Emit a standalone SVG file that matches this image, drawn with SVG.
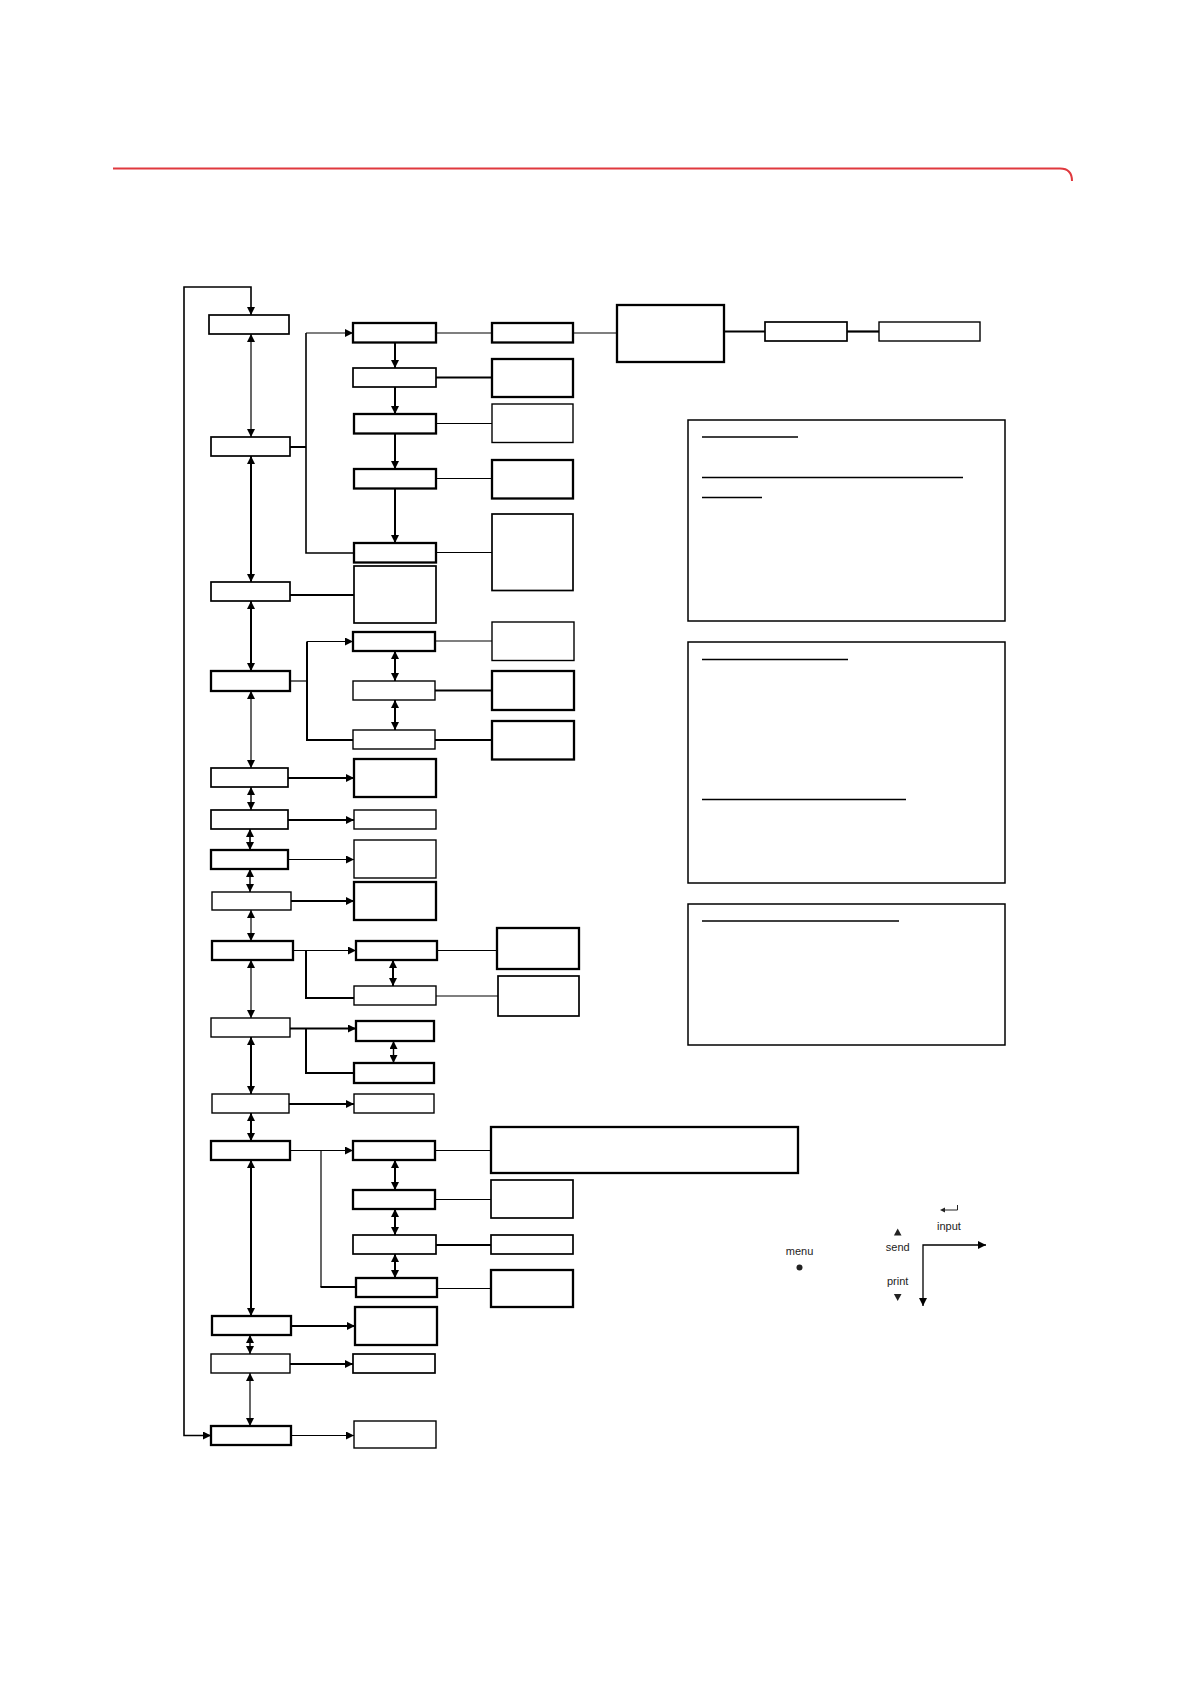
<svg xmlns="http://www.w3.org/2000/svg" width="1190" height="1684" viewBox="0 0 1190 1684">
<defs>
<style>
.b{fill:#fff;stroke:#000}
.w1{stroke-width:1.4}
.w15{stroke-width:1.7}
.w2{stroke-width:2.3}
.c{fill:none;stroke:#000}
.u{stroke:#000;stroke-width:1.6}
.lbl{font-family:"Liberation Sans",Arial,sans-serif;font-size:11px;fill:#222;text-anchor:middle}
</style>
<marker id="ah" viewBox="0 0 10 10" refX="10" refY="5" markerWidth="8" markerHeight="8" markerUnits="userSpaceOnUse" orient="auto-start-reverse">
<path d="M0,0 L10,5 L0,10 z" fill="#000"/>
</marker>
</defs>
<rect width="1190" height="1684" fill="#fff"/>
<path d="M113,168.5 H1060 Q1072,168.5 1072,181" fill="none" stroke="#e0393e" stroke-width="2"/>

<g id="connectors">
<path class="c" stroke-width="1.6" d="M211,1435.5 H184 V287 H251 V315" marker-start="url(#ah)" marker-end="url(#ah)"/>
<g marker-start="url(#ah)" marker-end="url(#ah)">
<path class="c" stroke-width="1.2" d="M251,334 V437"/>
<path class="c" stroke-width="2" d="M251,456 V582"/>
<path class="c" stroke-width="2" d="M251,601 V671"/>
<path class="c" stroke-width="1.2" d="M251,691 V768"/>
<path class="c" stroke-width="1.4" d="M251,787 V810"/>
<path class="c" stroke-width="1.6" d="M250,829 V850"/>
<path class="c" stroke-width="1.4" d="M250,869 V892"/>
<path class="c" stroke-width="1.2" d="M251,910 V941"/>
<path class="c" stroke-width="1.2" d="M251,960 V1018"/>
<path class="c" stroke-width="2" d="M251,1037 V1094"/>
<path class="c" stroke-width="2" d="M251,1113 V1141"/>
<path class="c" stroke-width="2" d="M251,1160 V1316"/>
<path class="c" stroke-width="1.4" d="M250,1335 V1354"/>
<path class="c" stroke-width="1.2" d="M250,1373 V1426"/>
<path class="c" stroke-width="2" d="M395,651 V681"/>
<path class="c" stroke-width="2" d="M395,700 V730"/>
<path class="c" stroke-width="2" d="M393,960 V986"/>
<path class="c" stroke-width="1.4" d="M393.5,1041 V1063"/>
<path class="c" stroke-width="2" d="M395,1160 V1190"/>
<path class="c" stroke-width="2" d="M395,1209 V1235"/>
<path class="c" stroke-width="2" d="M395,1254 V1278"/>
</g>
<g marker-end="url(#ah)">
<path class="c" stroke-width="2" d="M395,342.5 V368"/>
<path class="c" stroke-width="2" d="M395,387 V414"/>
<path class="c" stroke-width="2" d="M395,433.5 V469"/>
<path class="c" stroke-width="2" d="M395,488.5 V543"/>
<path class="c" stroke-width="1.2" d="M306,333 H353"/>
<path class="c" stroke-width="1.2" d="M307,641.5 H353"/>
<path class="c" stroke-width="2" d="M288,778 H354"/>
<path class="c" stroke-width="2" d="M288,820 H354"/>
<path class="c" stroke-width="1.2" d="M288,859.5 H354"/>
<path class="c" stroke-width="2" d="M291,901 H354"/>
<path class="c" stroke-width="1.2" d="M293,950.5 H356"/>
<path class="c" stroke-width="2" d="M290,1028.5 H356"/>
<path class="c" stroke-width="2" d="M289,1104 H354"/>
<path class="c" stroke-width="1.2" d="M290,1150.5 H353"/>
<path class="c" stroke-width="2" d="M291,1326 H355"/>
<path class="c" stroke-width="2" d="M290,1364 H353"/>
<path class="c" stroke-width="1.2" d="M291,1435.5 H354"/>
</g>
<path class="c" stroke-width="2" d="M290,447 H306"/>
<path class="c" stroke-width="1.6" d="M306,333 V553 H354"/>
<path class="c" stroke-width="1.2" d="M290,681 H307"/>
<path class="c" stroke-width="2" d="M307,641.5 V740 H353"/>
<path class="c" stroke-width="2" d="M306,950.5 V998 H354"/>
<path class="c" stroke-width="2" d="M306,1028.5 V1073 H354"/>
<path class="c" stroke-width="1.2" d="M321,1150.5 V1287"/>
<path class="c" stroke-width="2" d="M320.5,1287 H356"/>
<path class="c" stroke-width="2" d="M290,595 H354"/>
<path class="c" stroke-width="1.2" d="M436,333 H492"/>
<path class="c" stroke-width="2" d="M436,377.5 H492"/>
<path class="c" stroke-width="1.2" d="M436,423.5 H492"/>
<path class="c" stroke-width="1.2" d="M436,478.5 H492"/>
<path class="c" stroke-width="1.2" d="M436,552.5 H492"/>
<path class="c" stroke-width="1.2" d="M573,333 H617"/>
<path class="c" stroke-width="2.2" d="M724,331.5 H765"/>
<path class="c" stroke-width="2.2" d="M847,331.5 H879"/>
<path class="c" stroke-width="1.2" d="M435,641 H492"/>
<path class="c" stroke-width="2" d="M435,690.5 H492"/>
<path class="c" stroke-width="2" d="M435,740 H492"/>
<path class="c" stroke-width="1.2" d="M437,950.5 H497"/>
<path class="c" stroke-width="1.2" d="M436,996 H498"/>
<path class="c" stroke-width="1.2" d="M435,1150.5 H491"/>
<path class="c" stroke-width="1.2" d="M435,1199.5 H491"/>
<path class="c" stroke-width="2" d="M436,1245 H491"/>
<path class="c" stroke-width="1.2" d="M437,1288.5 H491"/>
</g>

<g id="main-column">
<rect id="A1" class="b w15" x="209" y="315" width="80" height="19"/>
<rect id="A2" class="b w15" x="211" y="437" width="79" height="19"/>
<rect id="A3" class="b w15" x="211" y="582" width="79" height="19"/>
<rect id="A4" class="b w2" x="211" y="671" width="79" height="20"/>
<rect id="A5" class="b w15" x="211" y="768" width="77" height="19"/>
<rect id="A6" class="b w15" x="211" y="810" width="77" height="19"/>
<rect id="A7" class="b w2" x="211" y="850" width="77" height="19"/>
<rect id="A8" class="b w1" x="212" y="892" width="79" height="18"/>
<rect id="A9" class="b w2" x="212" y="941" width="81" height="19"/>
<rect id="A10" class="b w1" x="211" y="1018" width="79" height="19"/>
<rect id="A11" class="b w1" x="212" y="1094" width="77" height="19"/>
<rect id="A12" class="b w2" x="211" y="1141" width="79" height="19"/>
<rect id="A13" class="b w2" x="212" y="1316" width="79" height="19"/>
<rect id="A14" class="b w1" x="211" y="1354" width="79" height="19"/>
<rect id="A15" class="b w2" x="211" y="1426" width="80" height="19"/>
</g>

<g id="second-column">
<rect id="B1" class="b w2" x="353" y="323" width="83" height="19.5"/>
<rect id="B2" class="b w15" x="353" y="368" width="83" height="19"/>
<rect id="B3" class="b w2" x="354" y="414" width="82" height="19.5"/>
<rect id="B4" class="b w2" x="354" y="469" width="82" height="19.5"/>
<rect id="B5" class="b w2" x="354" y="543" width="82" height="19.5"/>
<rect id="B6" class="b w15" x="354" y="566" width="82" height="57"/>
<rect id="B7" class="b w2" x="353" y="632" width="82" height="19"/>
<rect id="B8" class="b w1" x="353" y="681" width="82" height="19"/>
<rect id="B9" class="b w1" x="353" y="730" width="82" height="19"/>
<rect id="B10" class="b w2" x="354" y="759" width="82" height="38"/>
<rect id="B11" class="b w1" x="354" y="810" width="82" height="19"/>
<rect id="B12" class="b w1" x="354" y="840" width="82" height="38"/>
<rect id="B13" class="b w2" x="354" y="882" width="82" height="38"/>
<rect id="B14" class="b w2" x="356" y="941" width="81" height="19"/>
<rect id="B15" class="b w1" x="354" y="986" width="82" height="19"/>
<rect id="B16" class="b w2" x="356" y="1021" width="78" height="20"/>
<rect id="B17" class="b w2" x="354" y="1063" width="80" height="20"/>
<rect id="B18" class="b w1" x="354" y="1094" width="80" height="19"/>
<rect id="B19" class="b w2" x="353" y="1141" width="82" height="19"/>
<rect id="B20" class="b w2" x="353" y="1190" width="82" height="19"/>
<rect id="B21" class="b w15" x="353" y="1235" width="83" height="19"/>
<rect id="B22" class="b w2" x="356" y="1278" width="81" height="19"/>
<rect id="B23" class="b w2" x="355" y="1307" width="82" height="38"/>
<rect id="B24" class="b w15" x="353" y="1354" width="82" height="19"/>
<rect id="B25" class="b w1" x="354" y="1421" width="82" height="27"/>
</g>

<g id="third-column">
<rect id="C1" class="b w2" x="492" y="323" width="81" height="19.5"/>
<rect id="C2" class="b w2" x="492" y="359" width="81" height="38"/>
<rect id="C3" class="b w1" x="492" y="404" width="81" height="38.5"/>
<rect id="C4" class="b w2" x="492" y="460" width="81" height="38.5"/>
<rect id="C5" class="b w15" x="492" y="514" width="81" height="76.5"/>
<rect id="C7" class="b w1" x="492" y="622" width="82" height="38.5"/>
<rect id="C8" class="b w2" x="492" y="671" width="82" height="39"/>
<rect id="C9" class="b w2" x="492" y="721" width="82" height="38.5"/>
<rect id="C10" class="b w2" x="497" y="928" width="82" height="41"/>
<rect id="C11" class="b w15" x="498" y="976" width="81" height="40"/>
<rect id="C12" class="b w2" x="491" y="1127" width="307" height="46"/>
<rect id="C13" class="b w15" x="491" y="1180" width="82" height="38"/>
<rect id="C14" class="b w15" x="491" y="1235" width="82" height="19"/>
<rect id="C15" class="b w2" x="491" y="1270" width="82" height="37"/>
</g>

<g id="top-chain">
<rect id="D" class="b w2" x="617" y="305" width="107" height="57"/>
<rect id="E" class="b w15" x="765" y="322" width="82" height="19"/>
<rect id="F" class="b w1" x="879" y="322" width="101" height="19"/>
</g>

<g id="panel1">
<rect class="b" stroke-width="1.5" x="688" y="420" width="317" height="201"/>
<line class="u" x1="702" y1="437" x2="798" y2="437"/>
<line class="u" x1="702" y1="477.5" x2="963" y2="477.5"/>
<line class="u" x1="702" y1="497.5" x2="762" y2="497.5"/>
</g>
<g id="panel2">
<rect class="b" stroke-width="1.5" x="688" y="642" width="317" height="241"/>
<line class="u" x1="702" y1="659.5" x2="848" y2="659.5"/>
<line class="u" x1="702" y1="799.5" x2="906" y2="799.5"/>
</g>
<g id="panel3">
<rect class="b" stroke-width="1.5" x="688" y="904" width="317" height="141"/>
<line class="u" x1="702" y1="921" x2="899" y2="921"/>
</g>

<g id="legend">
<text class="lbl" x="799.5" y="1255">menu</text>
<circle cx="799.5" cy="1267.5" r="3" fill="#222"/>
<polygon points="897.7,1228.5 901.5,1235.5 893.9,1235.5" fill="#222"/>
<text class="lbl" x="897.7" y="1251">send</text>
<text class="lbl" x="897.7" y="1285">print</text>
<polygon points="893.9,1294 901.5,1294 897.7,1301" fill="#222"/>
<text class="lbl" x="949" y="1230">input</text>
<path d="M957.5,1205 V1210 H944" fill="none" stroke="#222" stroke-width="1"/>
<polygon points="940,1210 945,1207.5 945,1212.5" fill="#222"/>
<path d="M923,1306 V1245 H986" fill="none" stroke="#000" stroke-width="1.3" marker-start="url(#ah)" marker-end="url(#ah)"/>
</g>
</svg>
